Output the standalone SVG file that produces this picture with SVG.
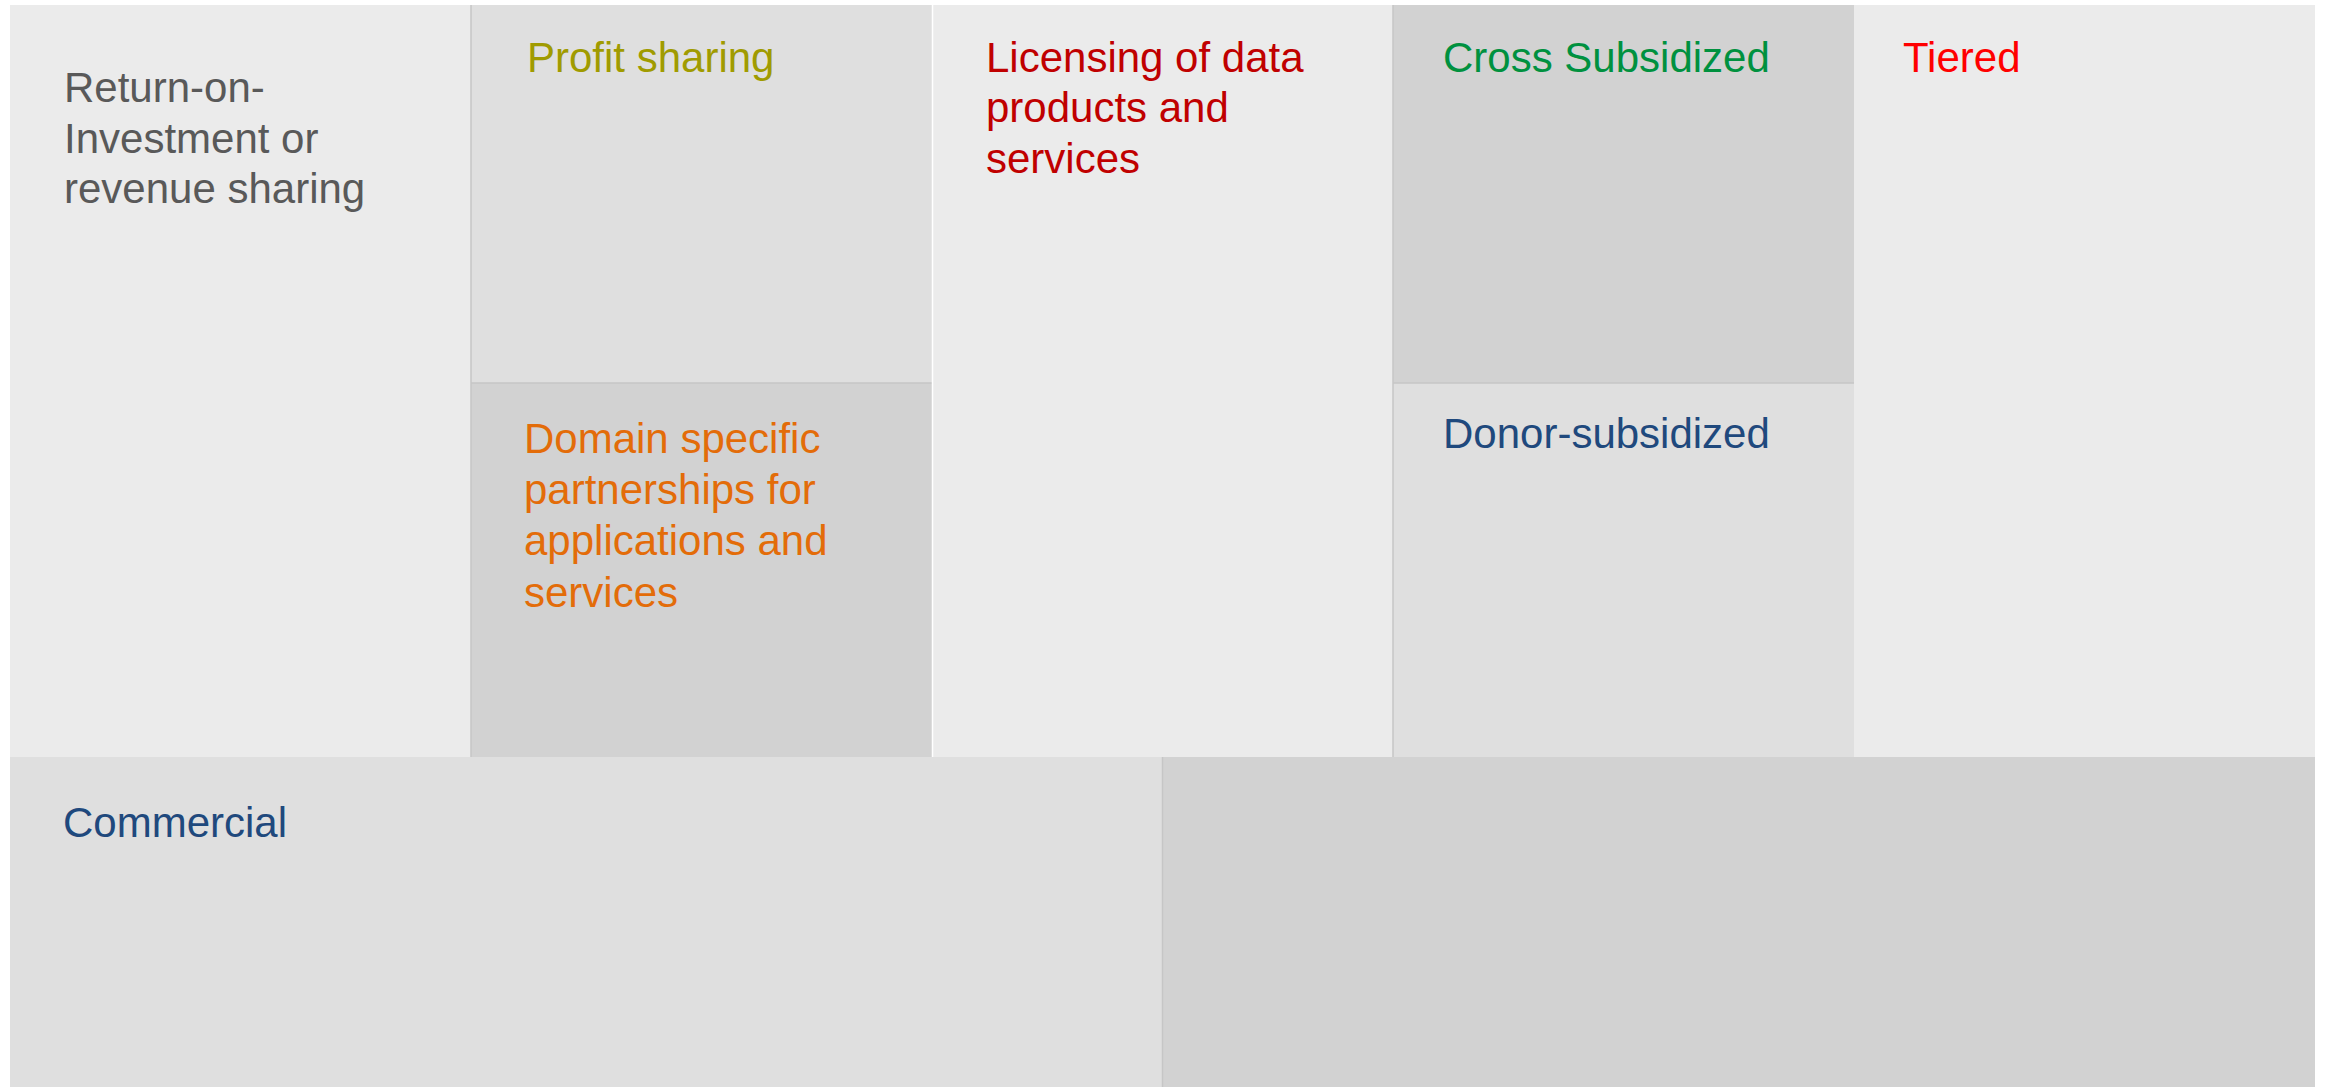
<svg xmlns="http://www.w3.org/2000/svg" width="2325" height="1087" viewBox="0 0 2325 1087">
<style>
.t{font-family:"Liberation Sans",Arial,sans-serif;font-size:42px}
.l1{fill:#ebebeb}
.l2{fill:#dfdfdf}
.l3{fill:#d2d2d2}
.edge{stroke:#c6c6c6;stroke-width:1.5;fill:none}
</style>
<rect x="0" y="0" width="2325" height="1087" fill="#ffffff"/>
<g id="roi">
<rect class="l1" x="10" y="5" width="461" height="752"/>
<text class="t" fill="#595959" x="64" y="102">Return-on-</text>
<text class="t" fill="#595959" x="64" y="153">Investment or</text>
<text class="t" fill="#595959" x="64" y="203">revenue sharing</text>
</g>
<g id="profit">
<rect class="l2" x="471" y="5" width="461" height="378"/>
<text class="t" fill="#a09b00" x="527" y="72">Profit sharing</text>
</g>
<g id="domain">
<rect class="l3" x="471" y="383" width="461" height="374"/>
<text class="t" fill="#e36c09" x="524" y="453">Domain specific</text>
<text class="t" fill="#e36c09" x="524" y="504">partnerships for</text>
<text class="t" fill="#e36c09" x="524" y="555">applications and</text>
<text class="t" fill="#e36c09" x="524" y="607">services</text>
</g>
<g id="licensing">
<rect class="l1" x="933" y="5" width="460" height="752"/>
<text class="t" fill="#c00000" x="986" y="72">Licensing of data</text>
<text class="t" fill="#c00000" x="986" y="122">products and</text>
<text class="t" fill="#c00000" x="986" y="173">services</text>
</g>
<g id="cross">
<rect class="l3" x="1393" y="5" width="461" height="378"/>
<text class="t" fill="#00913f" x="1443" y="72">Cross Subsidized</text>
</g>
<g id="donor">
<rect class="l2" x="1393" y="383" width="461" height="374"/>
<text class="t" fill="#1f497d" x="1443" y="448">Donor-subsidized</text>
</g>
<g id="tiered">
<rect class="l1" x="1854" y="5" width="461" height="752"/>
<text class="t" fill="#ff0000" x="1903" y="72">Tiered</text>
</g>
<g id="commercial">
<rect class="l2" x="10" y="757" width="1152" height="330"/>
<text class="t" fill="#1f497d" x="63" y="837">Commercial</text>
</g>
<g id="bottom-right">
<rect class="l3" x="1162" y="757" width="1153" height="330"/>
</g>
<g id="connectors">
<line class="edge" x1="471" y1="5" x2="471" y2="757"/>
<line class="edge" x1="471" y1="383" x2="932" y2="383"/>
<line x1="932.5" y1="5" x2="932.5" y2="757" stroke="#ffffff" stroke-width="1.5"/>
<line class="edge" x1="1393" y1="5" x2="1393" y2="757"/>
<line class="edge" x1="1393" y1="383" x2="1854" y2="383"/>
<line class="edge" x1="1162.5" y1="757" x2="1162.5" y2="1087"/>
</g>
</svg>
